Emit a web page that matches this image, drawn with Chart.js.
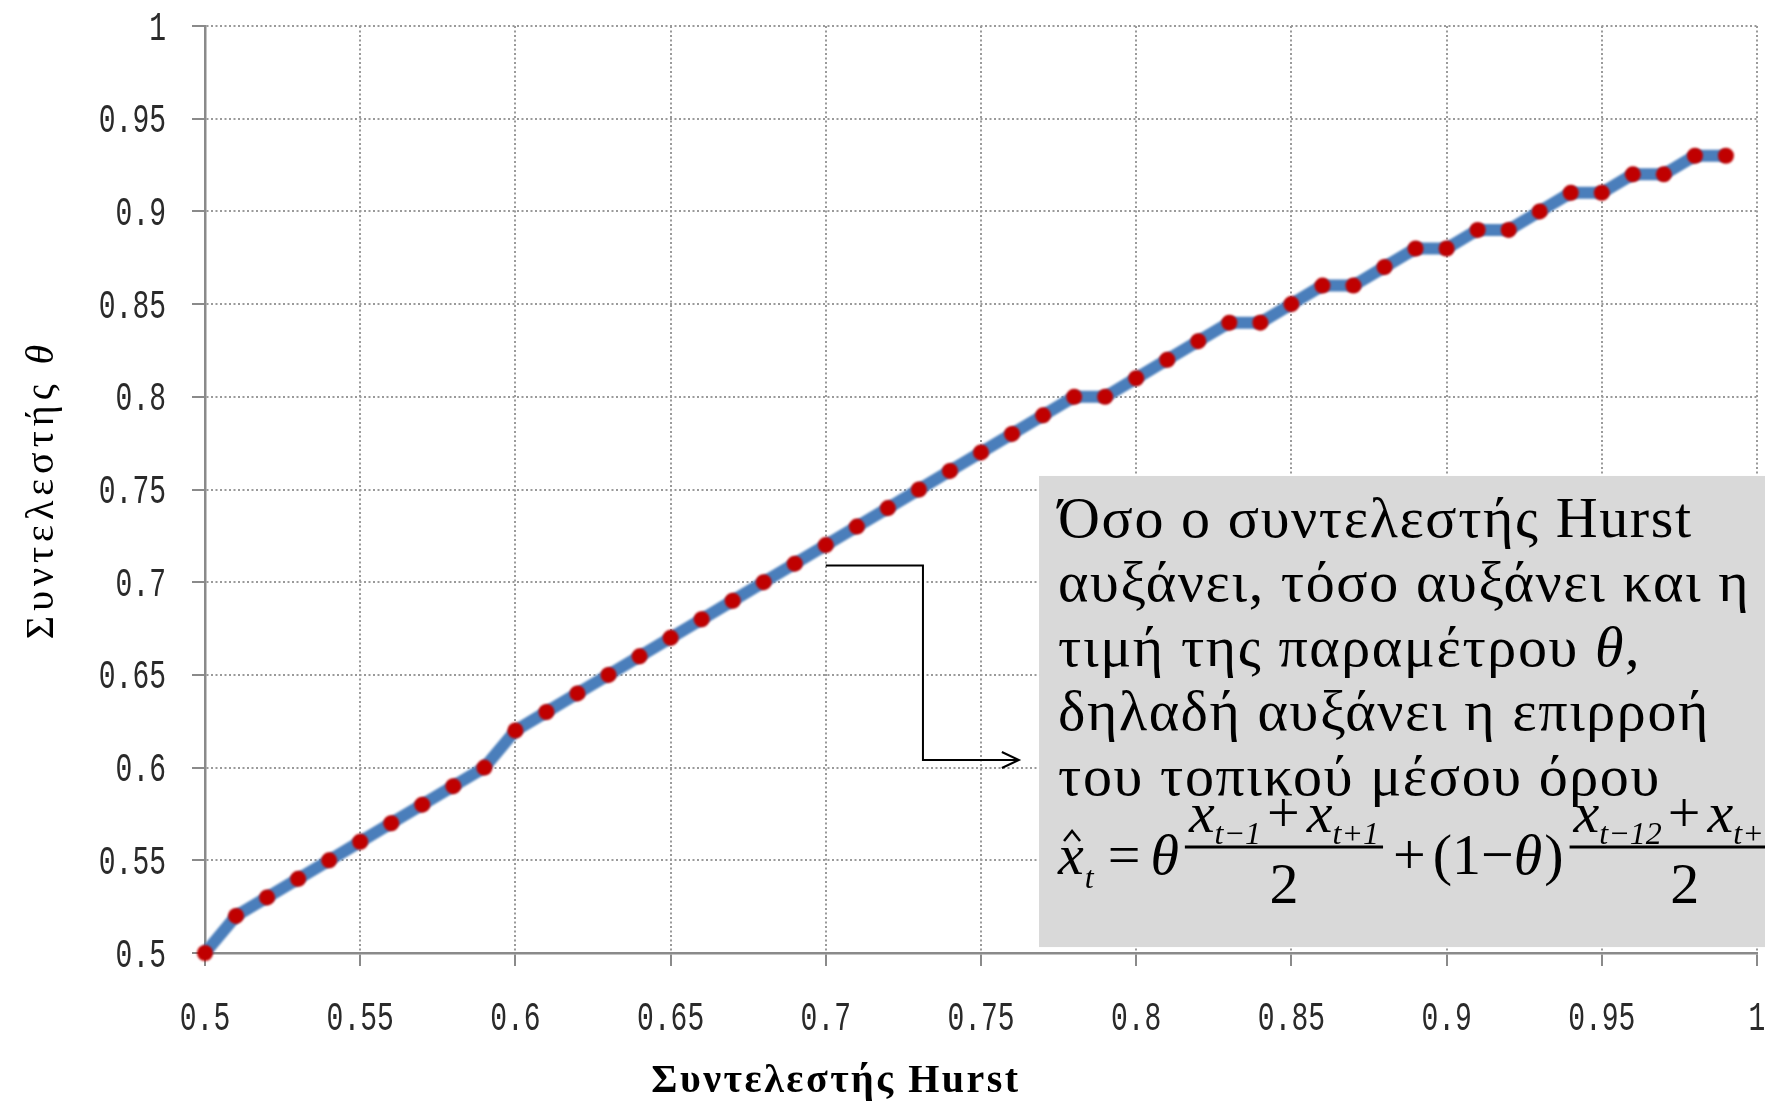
<!DOCTYPE html>
<html>
<head>
<meta charset="utf-8">
<script src="https://cdn.jsdelivr.net/npm/chart.js@4.4.1/dist/chart.umd.min.js"></script>
<style>
  body { margin: 0; background: #fff; }
  #wrap { width: 1765px; height: 1103px; }
</style>
</head>
<body>
<div id="wrap"><canvas id="hurstChart"></canvas></div>
<script>
// Hurst coefficient (x) against the weight theta of the local mean (y)
const hurstValues = [
  0.50, 0.51, 0.52, 0.53, 0.54, 0.55, 0.56, 0.57, 0.58, 0.59,
  0.60, 0.61, 0.62, 0.63, 0.64, 0.65, 0.66, 0.67, 0.68, 0.69,
  0.70, 0.71, 0.72, 0.73, 0.74, 0.75, 0.76, 0.77, 0.78, 0.79,
  0.80, 0.81, 0.82, 0.83, 0.84, 0.85, 0.86, 0.87, 0.88, 0.89,
  0.90, 0.91, 0.92, 0.93, 0.94, 0.95, 0.96, 0.97, 0.98, 0.99
];
const thetaValues = [
  0.50, 0.52, 0.53, 0.54, 0.55, 0.56, 0.57, 0.58, 0.59, 0.60,
  0.62, 0.63, 0.64, 0.65, 0.66, 0.67, 0.68, 0.69, 0.70, 0.71,
  0.72, 0.73, 0.74, 0.75, 0.76, 0.77, 0.78, 0.79, 0.80, 0.80,
  0.81, 0.82, 0.83, 0.84, 0.84, 0.85, 0.86, 0.86, 0.87, 0.88,
  0.88, 0.89, 0.89, 0.90, 0.91, 0.91, 0.92, 0.92, 0.93, 0.93
];

const xTickValues = [0.5, 0.55, 0.6, 0.65, 0.7, 0.75, 0.8, 0.85, 0.9, 0.95, 1];
const xTickLabels = ['0.5', '0.55', '0.6', '0.65', '0.7', '0.75', '0.8', '0.85', '0.9', '0.95', '1'];
const yTickValues = [0.5, 0.55, 0.6, 0.65, 0.7, 0.75, 0.8, 0.85, 0.9, 0.95, 1];
const yTickLabels = ['0.5', '0.55', '0.6', '0.65', '0.7', '0.75', '0.8', '0.85', '0.9', '0.95', '1'];

const xTitle = 'Συντελεστής Hurst';
const yTitle = 'Συντελεστής θ';
const noteLines = [
  'Όσο ο συντελεστής Hurst',
  'αυξάνει, τόσο αυξάνει και η',
  'τιμή της παραμέτρου θ,',
  'δηλαδή αυξάνει η επιρροή',
  'του τοπικού μέσου όρου'
];

const SERIF = '"Liberation Serif", "Times New Roman", serif';
const TICK_FAMILY = '"Liberation Mono", monospace';
const axisColor = '#8a8a8a';

// draws text where every θ is set in italic
function mixedText(ctx, str, x, y, size, weight) {
  for (const p of str.split(/(θ)/)) {
    if (!p) continue;
    ctx.font = (p === 'θ' ? 'italic ' : '') + weight + ' ' + size + 'px ' + SERIF;
    ctx.fillText(p, x, y);
    x += ctx.measureText(p).width;
  }
  return x;
}

function mixedWidth(ctx, str, size, weight) {
  let w = 0;
  for (const p of str.split(/(θ)/)) {
    if (!p) continue;
    ctx.font = (p === 'θ' ? 'italic ' : '') + weight + ' ' + size + 'px ' + SERIF;
    w += ctx.measureText(p).width;
  }
  return w;
}

function put(ctx, str, x, y, font) {
  ctx.font = font;
  ctx.fillText(str, x, y);
  return x + ctx.measureText(str).width;
}

// x̂_t = θ (x_{t-1} + x_{t+1})/2 + (1-θ)(x_{t-12} + x_{t+12})/2
function drawFormula(ctx, left, base) {
  const big = size => size + 'px ' + SERIF;
  const it = size => 'italic ' + size + 'px ' + SERIF;
  const B = 58, S = 32;
  const bar = base - 27;
  const numBase = bar - 15;
  const denBase = bar + 56;

  let x = left;
  const xEnd = put(ctx, 'x', x, base, it(B));
  ctx.lineWidth = 2.5;
  ctx.beginPath();
  ctx.moveTo(x + 6, base - 33);
  ctx.lineTo(x + 14, base - 43);
  ctx.lineTo(x + 22, base - 33);
  ctx.stroke();
  x = put(ctx, 't', xEnd + 1, base + 14, it(S));
  x = put(ctx, '=', x + 14, base, big(B));
  x = put(ctx, 'θ', x + 10, base, it(B));

  const fraction = (x0, sub1, sub2) => {
    let nx = x0 + 4;
    nx = put(ctx, 'x', nx, numBase, it(B));
    nx = put(ctx, sub1, nx, numBase + 12, it(S));
    nx = put(ctx, '+', nx + 6, numBase, big(B));
    nx = put(ctx, 'x', nx + 7, numBase, it(B));
    nx = put(ctx, sub2, nx, numBase + 12, it(S));
    const x1 = nx + 4;
    ctx.lineWidth = 3;
    ctx.beginPath();
    ctx.moveTo(x0, bar);
    ctx.lineTo(x1, bar);
    ctx.stroke();
    ctx.font = big(B);
    const w2 = ctx.measureText('2').width;
    ctx.fillText('2', (x0 + x1) / 2 - w2 / 2, denBase);
    return x1;
  };

  x = fraction(x + 6, 't−1', 't+1');
  x = put(ctx, '+', x + 10, base, big(B));
  x = put(ctx, '(1−', x + 7, base, big(B));
  x = put(ctx, 'θ', x, base, it(B));
  x = put(ctx, ')', x + 2, base, big(B));
  fraction(x + 6, 't−12', 't+12');
}

// soft edges on the curve and its markers
const softPlugin = {
  id: 'soft',
  beforeDatasetsDraw(chart) { chart.ctx.save(); chart.ctx.filter = 'blur(0.9px)'; },
  afterDatasetsDraw(chart) { chart.ctx.restore(); }
};

// tall, narrow tick numbers
const tickLabelPlugin = {
  id: 'tickLabels',
  afterDraw(chart) {
    const ctx = chart.ctx;
    const xs = chart.scales.x, ys = chart.scales.y;
    const area = chart.chartArea;
    ctx.save();
    ctx.fillStyle = '#2a2a2a';
    ctx.font = '28px ' + TICK_FAMILY;
    ctx.textBaseline = 'alphabetic';
    const drawTall = (text, x, y, align) => {
      ctx.save();
      ctx.translate(x, y);
      ctx.scale(1, 1.42);
      ctx.textAlign = align;
      ctx.fillText(text, 0, 0);
      ctx.restore();
    };
    yTickValues.forEach((v, i) => {
      drawTall(yTickLabels[i], area.left - 39, ys.getPixelForValue(v) + 13.5, 'right');
    });
    xTickValues.forEach((v, i) => {
      drawTall(xTickLabels[i], xs.getPixelForValue(v), 1030, 'center');
    });
    ctx.restore();
  }
};

const labelsPlugin = {
  id: 'labels',
  afterDraw(chart) {
    const ctx = chart.ctx;
    const xs = chart.scales.x, ys = chart.scales.y;
    const area = chart.chartArea;
    ctx.save();
    ctx.fillStyle = '#000';
    ctx.strokeStyle = '#000';
    ctx.textBaseline = 'alphabetic';

    // axis titles
    ctx.letterSpacing = '2.5px';
    const xw = mixedWidth(ctx, xTitle, 40, 'bold');
    mixedText(ctx, xTitle, 836 - xw / 2, 1092, 40, 'bold');
    ctx.save();
    ctx.letterSpacing = '5px';
    ctx.translate(53, (area.top + area.bottom) / 2);
    ctx.rotate(-Math.PI / 2);
    const yw = mixedWidth(ctx, yTitle, 40, 'normal');
    mixedText(ctx, yTitle, -yw / 2, 0, 40, 'normal');
    ctx.restore();

    // note box
    const boxL = xs.getPixelForValue(0.7687);
    const boxT = ys.getPixelForValue(0.7573);
    const boxB = ys.getPixelForValue(0.5032);
    ctx.fillStyle = '#d9d9d9';
    ctx.fillRect(boxL, boxT, chart.width - boxL, boxB - boxT);
    ctx.fillStyle = '#000';
    ctx.letterSpacing = '1.6px';
    noteLines.forEach((line, i) => {
      mixedText(ctx, line, boxL + 19, boxT + 61 + i * 64.5, 58, 'normal');
    });
    ctx.letterSpacing = '0px';
    drawFormula(ctx, boxL + 19, boxT + 398);

    // elbow arrow from the curve to the box
    const path = [[0.70, 0.709], [0.7313, 0.709], [0.7313, 0.6041], [0.7622, 0.6041]]
      .map(([a, b]) => [xs.getPixelForValue(a), ys.getPixelForValue(b)]);
    ctx.lineWidth = 2;
    ctx.beginPath();
    path.forEach(([px, py], i) => (i ? ctx.lineTo(px, py) : ctx.moveTo(px, py)));
    ctx.stroke();
    const [tx, ty] = path[path.length - 1];
    ctx.beginPath();
    ctx.moveTo(tx - 17, ty - 8);
    ctx.lineTo(tx, ty);
    ctx.lineTo(tx - 17, ty + 8);
    ctx.stroke();
    ctx.restore();
  }
};

const gridOpts = { color: '#9a9a9a', lineWidth: 2, tickLength: 13, tickColor: axisColor, tickWidth: 2 };
const borderOpts = { color: axisColor, width: 2.5, dash: [2, 2.5] };

new Chart(document.getElementById('hurstChart'), {
  type: 'line',
  data: {
    datasets: [{
      data: hurstValues.map((h, i) => ({ x: h, y: thetaValues[i] })),
      borderColor: '#4a7ebb',
      borderWidth: 12,
      pointRadius: 8,
      pointHoverRadius: 8,
      pointBackgroundColor: '#c00000',
      pointBorderColor: '#c00000',
      pointBorderWidth: 0,
      tension: 0,
      clip: false
    }]
  },
  options: {
    responsive: true,
    maintainAspectRatio: false,
    animation: false,
    layout: { padding: { top: 26, right: 8, left: 0, bottom: 0 } },
    plugins: { legend: { display: false }, tooltip: { enabled: false } },
    scales: {
      x: {
        type: 'linear',
        min: 0.5,
        max: 1,
        afterBuildTicks: s => { s.ticks = xTickValues.map(v => ({ value: v })); },
        afterFit: s => { s.height = 150; s.paddingLeft = 0; s.paddingRight = 0; },
        ticks: { display: false },
        grid: gridOpts,
        border: borderOpts
      },
      y: {
        min: 0.5,
        max: 1,
        afterBuildTicks: s => { s.ticks = yTickValues.map(v => ({ value: v })); },
        afterFit: s => { s.width = 205; s.paddingTop = 0; s.paddingBottom = 0; },
        ticks: { display: false },
        grid: gridOpts,
        border: borderOpts
      }
    }
  },
  plugins: [softPlugin, tickLabelPlugin, labelsPlugin]
});
</script>
</body>
</html>
